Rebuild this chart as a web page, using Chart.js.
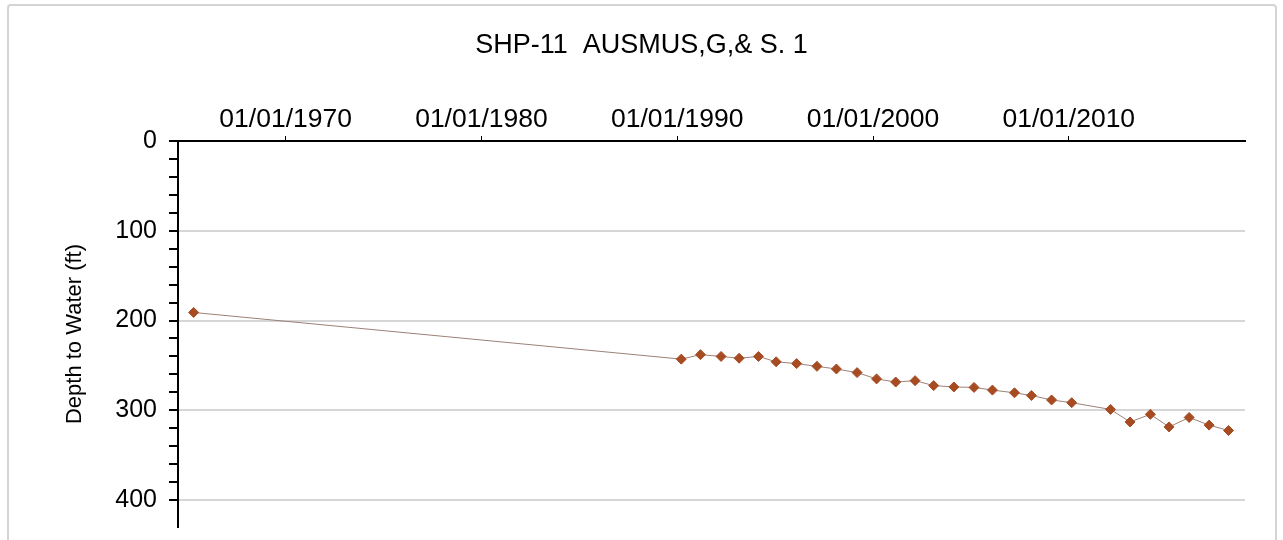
<!DOCTYPE html>
<html lang="en">
<head>
  <meta charset="UTF-8">
  <title>SHP-11 AUSMUS,G,& S. 1</title>
  <script src="https://cdn.jsdelivr.net/npm/chart.js"></script>
  <style>
    body { margin: 0; background: #fff; }
    #wrap { position: relative; width: 1283px; height: 540px; overflow: hidden; }
    #frame {
      position: absolute; left: 7px; top: 4px; width: 1266px; height: 560px;
      border: 2px solid #d4d4d4; border-radius: 4px; pointer-events: none;
    }
  </style>
</head>
<body>

<div id="wrap">
  <canvas id="myChart" width="1283" height="540"></canvas>
  <div id="frame"></div>
</div>

<script>
// measurement dates and depth to water (ft)
const dates = [
  '1965-04-20', '1990-03-17', '1991-03-10', '1992-03-28', '1993-03-01',
  '1994-02-24', '1995-01-20', '1996-02-06', '1997-02-20', '1998-02-17',
  '1999-03-10', '2000-03-07', '2001-02-28', '2002-02-24', '2003-02-06',
  '2004-02-17', '2005-02-28', '2006-02-06', '2007-03-25', '2008-02-03',
  '2009-02-14', '2010-02-24', '2012-02-17', '2013-02-17', '2014-03-03',
  '2015-02-14', '2016-02-24', '2017-03-03', '2018-02-28'
];
const depths = [
  191, 243, 238, 240, 242,
  240, 246, 248, 251, 254,
  258, 265, 268.5, 267, 272.5,
  274, 274.5, 277.5, 280.5, 283.5,
  288.5, 291.5, 299, 313, 304.5,
  318.5, 308, 316.5, 322.5
];
const tickYears = [1970, 1980, 1990, 2000, 2010];

const font = 'Liberation Sans, Arial, sans-serif';

// date string -> fractional year
function toYear(s) {
  const d = new Date(s + 'T00:00:00Z');
  const y = d.getUTCFullYear();
  const start = Date.UTC(y, 0, 1);
  return y + (d.getTime() - start) / (365.25 * 86400000);
}

const points = dates.map((d, i) => ({ x: toYear(d), y: depths[i] }));

// the title is centred on the whole frame, not on the padded area
const centerTitle = {
  id: 'centerTitle',
  afterLayout(chart) {
    const t = chart.titleBlock;
    if (t) { t.left = 0; t.right = chart.width; t.width = chart.width; }
  }
};

const ctx = document.getElementById('myChart').getContext('2d');
new Chart(ctx, {
  type: 'line',
  data: {
    datasets: [{
      label: 'Depth to Water',
      data: points,
      borderColor: '#9b8277',
      borderWidth: 1,
      pointStyle: 'rectRot',
      pointRadius: 5,
      pointBackgroundColor: '#a64b22',
      pointBorderColor: '#a64b22',
      pointBorderWidth: 1,
      fill: false,
      tension: 0
    }]
  },
  plugins: [centerTitle],
  options: {
    responsive: false,
    animation: false,
    layout: { padding: { left: 8, right: 38, top: 0, bottom: 13 } },
    plugins: {
      legend: { display: false },
      tooltip: { enabled: false },
      title: {
        display: true,
        text: 'SHP-11  AUSMUS,G,& S. 1',
        color: '#000',
        font: { family: font, size: 27, weight: 'normal' },
        padding: { top: 29, bottom: 0 }
      }
    },
    scales: {
      x: {
        type: 'linear',
        position: 'top',
        min: 1964.5,
        max: 2019,
        afterBuildTicks: scale => { scale.ticks = tickYears.map(v => ({ value: v })); },
        afterFit: scale => { scale.height = 79.6; },
        ticks: {
          color: '#000',
          font: { family: font, size: 26.5 },
          padding: 0,
          maxRotation: 0,
          autoSkip: false,
          callback: v => '01/01/' + v
        },
        grid: {
          drawOnChartArea: false,
          tickLength: 5,
          tickColor: '#000'
        },
        border: { color: '#000', width: 2 }
      },
      y: {
        type: 'linear',
        position: 'left',
        reverse: true,
        min: 0,
        max: 430,
        afterBuildTicks: scale => { scale.ticks = scale.ticks.filter(t => t.value % 20 === 0); },
        afterFit: scale => {
          scale.width = 170;
          scale.paddingTop = 0;
          scale.paddingBottom = 0;
        },
        ticks: {
          stepSize: 20,
          autoSkip: false,
          color: '#000',
          font: { family: font, size: 25 },
          padding: 12,
          callback: v => (v % 100 === 0 ? v : '')
        },
        grid: {
          color: c => (c.tick && c.tick.value % 100 === 0 && c.tick.value !== 0 ? '#d6d6d6' : 'rgba(0,0,0,0)'),
          lineWidth: 2,
          tickColor: '#000',
          tickLength: 9,
          drawTicks: true
        },
        border: { color: '#000', width: 2 },
        title: {
          display: true,
          text: 'Depth to Water (ft)',
          color: '#000',
          font: { family: font, size: 22 },
          padding: { top: 54, bottom: 0 }
        }
      }
    }
  }
});
</script>

</body>
</html>
